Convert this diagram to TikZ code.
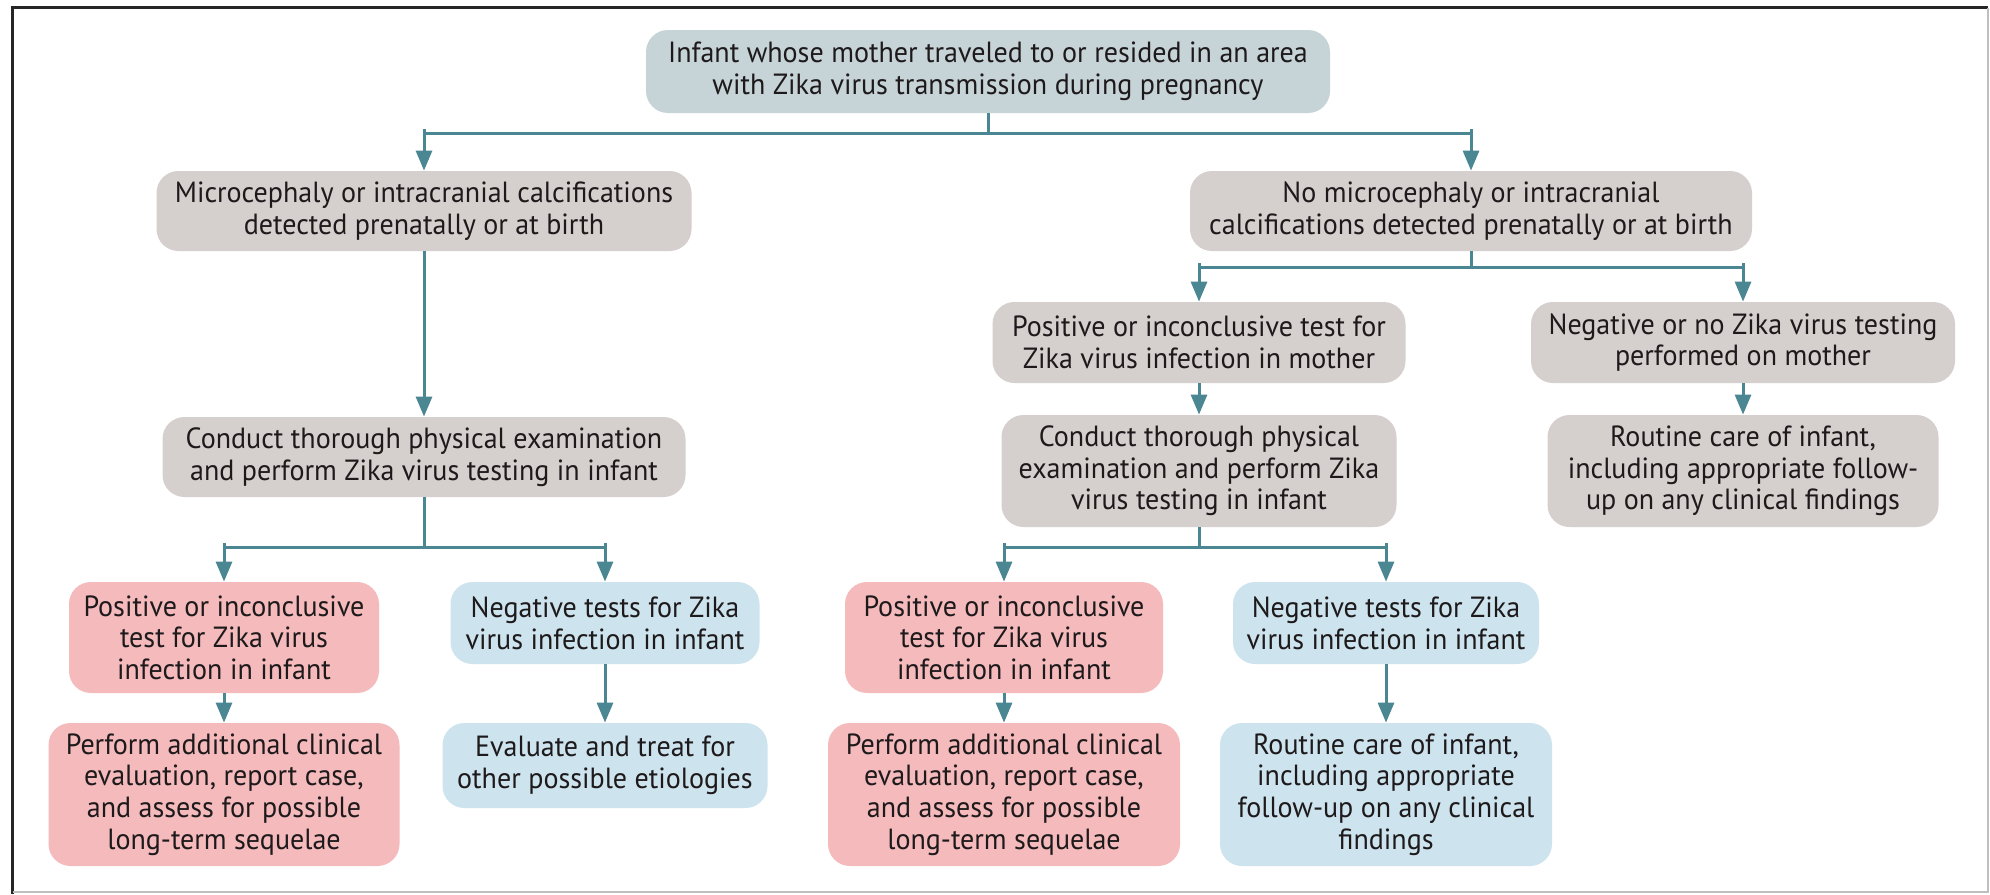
\documentclass[tikz,border=0pt]{standalone}
\usepackage{fontspec}
\setmainfont{PT Sans}[FakeStretch=0.96]
\usetikzlibrary{arrows.meta}
\definecolor{topc}{HTML}{C6D3D7}
\definecolor{grayc}{HTML}{D5CFCD}
\definecolor{pinkc}{HTML}{F4BABC}
\definecolor{bluec}{HTML}{CDE3EE}
\definecolor{arrc}{HTML}{4B8793}
\definecolor{txtc}{HTML}{1E1A1C}
\begin{document}
\begin{tikzpicture}[x=0.5pt,y=-0.5pt,
  box/.style={rounded corners=11pt, inner sep=0pt, align=center,
    font=\fontsize{14.6}{15.8}\selectfont, text=txtc},
  sz/.style 2 args={minimum width=#1*0.5pt, minimum height=#2*0.5pt},
  topbox/.style={box, fill=topc},
  graybox/.style={box, fill=grayc},
  pinkbox/.style={box, fill=pinkc},
  bluebox/.style={box, fill=bluec},
  link/.style={draw=arrc, line width=1.5pt},
  arr/.style={link, -{Triangle[length=10pt,width=8pt]}},
]
\useasboundingbox (0,0) rectangle (1990,894);
\fill[white] (0,0) rectangle (1990,894);
\draw[line width=1.5pt, black!85] (12.5,894) -- (12.5,7.5) -- (1988,7.5);
\draw[line width=0.8pt, black!25] (1988,7.5) -- (1988,892) -- (12.5,892);

\node[topbox, sz={684}{83}] (top) at (988,71.5)
  {Infant whose mother traveled to or resided in an area\\with Zika virus transmission during pregnancy};
\node[graybox, sz={535}{80}] (micro) at (424,211)
  {Microcephaly or intracranial calcifications\\detected prenatally or at birth};
\node[graybox, sz={562}{80}] (nomicro) at (1471,211)
  {No microcephaly or intracranial\\calcifications detected prenatally or at birth};
\node[graybox, sz={413}{81}] (posmother) at (1199,342.5)
  {Positive or inconclusive test for\\Zika virus infection in mother};
\node[graybox, sz={424}{81}] (negmother) at (1743,342.5)
  {Negative or no Zika virus testing\\performed on mother};
\node[graybox, sz={523}{80}] (conductL) at (424,457)
  {Conduct thorough physical examination\\and perform Zika virus testing in infant};
\node[graybox, sz={395}{112}] (conductR) at (1199,471)
  {Conduct thorough physical\\examination and perform Zika\\virus testing in infant};
\node[graybox, sz={391}{112}] (routineG) at (1743,471)
  {Routine care of infant,\\including appropriate follow-\\up on any clinical findings};
\node[pinkbox, sz={310}{111}] (posinfL) at (224,637.5)
  {Positive or inconclusive\\test for Zika virus\\infection in infant};
\node[bluebox, sz={309}{82}] (neginfL) at (605,623)
  {Negative tests for Zika\\virus infection in infant};
\node[pinkbox, sz={351}{143}] (performL) at (224,794.5)
  {Perform additional clinical\\evaluation, report case,\\and assess for possible\\long-term sequelae};
\node[bluebox, sz={325}{85}] (evaluate) at (605,765.5)
  {Evaluate and treat for\\other possible etiologies};
\node[pinkbox, sz={318}{111}] (posinfR) at (1004,637.5)
  {Positive or inconclusive\\test for Zika virus\\infection in infant};
\node[bluebox, sz={306}{82}] (neginfR) at (1386,623)
  {Negative tests for Zika\\virus infection in infant};
\node[pinkbox, sz={352}{143}] (performR) at (1004,794.5)
  {Perform additional clinical\\evaluation, report case,\\and assess for possible\\long-term sequelae};
\node[bluebox, sz={332}{143}] (routineB) at (1386,794.5)
  {Routine care of infant,\\including appropriate\\follow-up on any clinical\\findings};

% branch points
\coordinate (b0) at (988,133);
\coordinate (b0L) at (424,133);
\coordinate (b0R) at (1471,133);
\coordinate (b1) at (1471,267);
\coordinate (b1L) at (1199,267);
\coordinate (b1R) at (1743,267);
\coordinate (b2) at (424,547);
\coordinate (b2L) at (224,547);
\coordinate (b2R) at (605,547);
\coordinate (b3) at (1199,547);
\coordinate (b3L) at (1004,547);
\coordinate (b3R) at (1386,547);

\draw[link] (top.south) -- (b0);
\draw[link] (b0L) -- (b0R);
\draw[arr] ([yshift=2pt]b0L) -- (micro.north);
\draw[arr] ([yshift=2pt]b0R) -- (nomicro.north);

\draw[link] (nomicro.south) -- (b1);
\draw[link] (b1L) -- (b1R);
\draw[arr] ([yshift=2pt]b1L) -- (posmother.north);
\draw[arr] ([yshift=2pt]b1R) -- (negmother.north);

\draw[arr] (micro) -- (conductL);
\draw[arr] (posmother) -- (conductR);
\draw[arr] (negmother) -- (routineG);

\draw[link] (conductL.south) -- (b2);
\draw[link] (b2L) -- (b2R);
\draw[arr] ([yshift=2pt]b2L) -- (posinfL.north);
\draw[arr] ([yshift=2pt]b2R) -- (neginfL.north);

\draw[link] (conductR.south) -- (b3);
\draw[link] (b3L) -- (b3R);
\draw[arr] ([yshift=2pt]b3L) -- (posinfR.north);
\draw[arr] ([yshift=2pt]b3R) -- (neginfR.north);

\draw[arr] (posinfL) -- (performL);
\draw[arr] (neginfL) -- (evaluate);
\draw[arr] (posinfR) -- (performR);
\draw[arr] (neginfR) -- (routineB);
\end{tikzpicture}
\end{document}
